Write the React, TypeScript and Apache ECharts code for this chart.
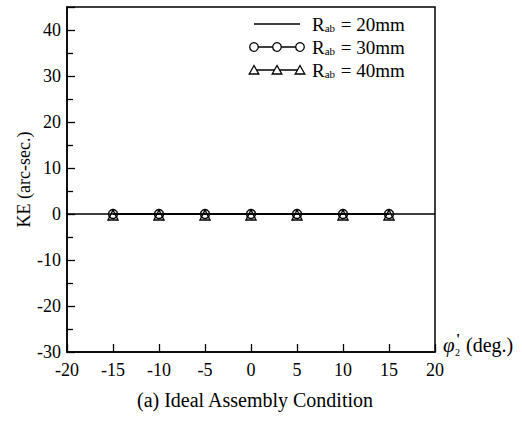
import React, { useEffect, useRef } from "react";
import * as echarts from "echarts";

// Rotation angle φ'2 (deg.) sample positions and KE values (arc-sec.)
const phiSamples = [-15, -10, -5, 0, 5, 10, 15];
const lineSamples = [-20, -15, -10, -5, 0, 5, 10, 15, 20];
const ke20 = [0, 0, 0, 0, 0, 0, 0, 0, 0];
const ke30 = [0, 0, 0, 0, 0, 0, 0];
const ke40 = [0, 0, 0, 0, 0, 0, 0];
const seriesNames = ["Rab = 20mm", "Rab = 30mm", "Rab = 40mm"];
const legendValues = ["20mm", "30mm", "40mm"];

const FONT = "Liberation Serif";

export default function App() {
  const ref = useRef<HTMLDivElement>(null);

  useEffect(() => {
    if (!ref.current) return;
    const chart = echarts.init(ref.current, undefined, { renderer: "svg" });

    const hollow = { color: "rgba(0,0,0,0)", borderColor: "#000", borderWidth: 1.4 };

    // Legend drawn as graphic rows: line sample with markers + "R_ab = ..." label
    const legendGraphics: any[] = [];
    const rowY = [24, 47, 70];
    rowY.forEach((y, i) => {
      legendGraphics.push({
        type: "line",
        shape: { x1: 254, y1: y, x2: 300, y2: y },
        style: { stroke: "#000", lineWidth: 1.3 },
      });
      [254, 277, 300].forEach((cx) => {
        if (i === 1) {
          legendGraphics.push({
            type: "circle",
            shape: { cx, cy: y, r: 4.3 },
            style: { fill: "#fff", stroke: "#000", lineWidth: 1.3 },
          });
        } else if (i === 2) {
          legendGraphics.push({
            type: "polygon",
            shape: { points: [[cx, y - 4.5], [cx - 4.8, y + 4], [cx + 4.8, y + 4]] },
            style: { fill: "#fff", stroke: "#000", lineWidth: 1.3 },
          });
        }
      });
      legendGraphics.push({
        type: "text",
        x: 312,
        y: y,
        style: {
          text: "{r|R}{s|ab}{r| = " + legendValues[i] + "}",
          fontFamily: FONT,
          verticalAlign: "middle",
          rich: {
            r: { fontFamily: FONT, fontSize: 19, fill: "#000" },
            s: { fontFamily: FONT, fontSize: 11, fill: "#000", padding: [8, 1, 0, 0] },
          },
        },
      });
    });

    chart.setOption({
      animation: false,
      backgroundColor: "#fff",
      textStyle: { fontFamily: FONT },
      grid: {
        left: 67,
        right: 87,
        top: 7,
        bottom: 75,
        show: true,
        borderColor: "#000",
        borderWidth: 1.5,
        containLabel: false,
      },
      xAxis: {
        type: "value",
        min: -20,
        max: 20,
        interval: 5,
        axisLine: { onZero: false, lineStyle: { color: "#000", width: 1.5 } },
        axisTick: { inside: true, length: 8, lineStyle: { color: "#000", width: 1.3 } },
        axisLabel: { color: "#000", fontFamily: FONT, fontSize: 18, margin: 9 },
        splitLine: { show: false },
      },
      yAxis: {
        type: "value",
        min: -30,
        max: 45,
        interval: 10,
        name: "KE (arc-sec.)",
        nameLocation: "middle",
        nameGap: 34,
        nameMoveOverlap: false,
        nameTextStyle: { color: "#000", fontFamily: FONT, fontSize: 18 },
        axisLine: { onZero: false, lineStyle: { color: "#000", width: 1.5 } },
        axisTick: { inside: true, length: 8, lineStyle: { color: "#000", width: 1.3 } },
        minorTick: { show: true, splitNumber: 2, length: 6, lineStyle: { color: "#000", width: 1.3 } },
        axisLabel: { color: "#000", fontFamily: FONT, fontSize: 18, margin: 6, showMaxLabel: false },
        splitLine: { show: false },
      },
      series: [
        {
          name: seriesNames[0],
          type: "line",
          data: lineSamples.map((x, i) => [x, ke20[i]]),
          showSymbol: false,
          lineStyle: { color: "#000", width: 1.5 },
          z: 1,
        },
        {
          name: seriesNames[1],
          type: "line",
          data: phiSamples.map((x, i) => [x, ke30[i]]),
          symbol: "circle",
          symbolSize: 9,
          lineStyle: { color: "#000", width: 1.5 },
          itemStyle: hollow,
          z: 2,
        },
        {
          name: seriesNames[2],
          type: "line",
          data: phiSamples.map((x, i) => [x, ke40[i]]),
          symbol: "triangle",
          symbolSize: 10,
          symbolOffset: [0, 1],
          lineStyle: { color: "#000", width: 1.5 },
          itemStyle: hollow,
          z: 3,
        },
      ],
      graphic: [
        ...legendGraphics,
        // x-axis name: φ'2 (deg.)
        {
          type: "text",
          x: 443,
          y: 345,
          style: {
            text: "φ",
            fontFamily: FONT,
            fontStyle: "italic",
            fontSize: 21,
            fill: "#000",
            verticalAlign: "middle",
          },
        },
        {
          type: "text",
          x: 456,
          y: 339,
          style: { text: "'", fontFamily: FONT, fontSize: 15, fontWeight: "bold", fill: "#000", verticalAlign: "middle" },
        },
        {
          type: "text",
          x: 455,
          y: 352,
          style: { text: "2", fontFamily: FONT, fontSize: 10, fill: "#000", verticalAlign: "middle" },
        },
        {
          type: "text",
          x: 466,
          y: 345,
          style: { text: "(deg.)", fontFamily: FONT, fontSize: 20, fill: "#000", verticalAlign: "middle" },
        },
        // caption
        {
          type: "text",
          x: 255,
          y: 400,
          style: {
            text: "(a) Ideal Assembly Condition",
            fontFamily: FONT,
            fontSize: 20,
            fill: "#000",
            align: "center",
            verticalAlign: "middle",
          },
        },
      ],
    });

    return () => chart.dispose();
  }, []);

  return (
    <div
      ref={ref}
      style={{ position: "fixed", left: 0, top: 0, width: 522, height: 427, background: "#fff" }}
    />
  );
}
